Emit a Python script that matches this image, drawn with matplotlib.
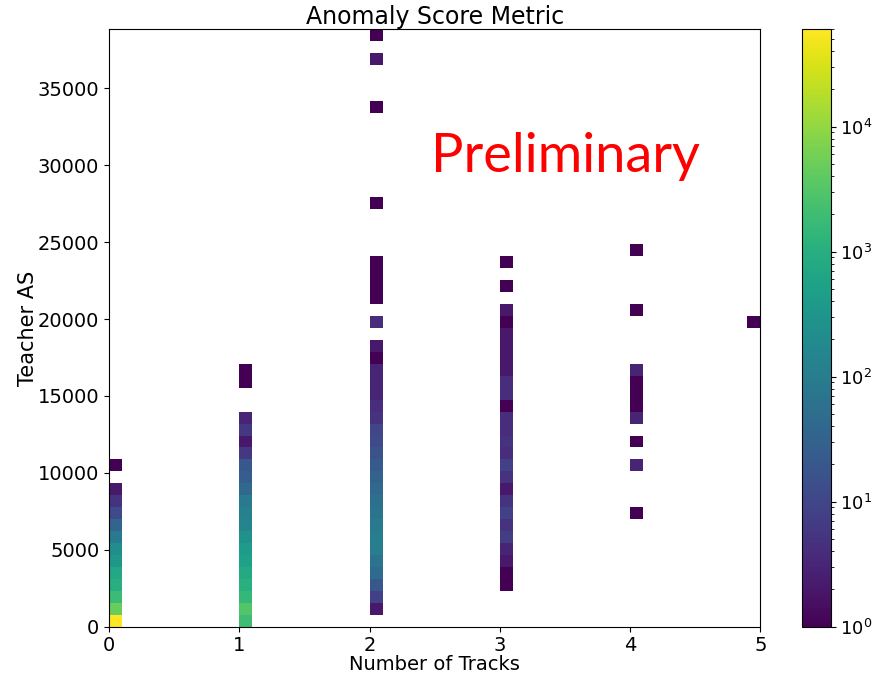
import numpy as np
import matplotlib
matplotlib.use("Agg")
import matplotlib.pyplot as plt
from matplotlib.colors import LogNorm

# ---- data (counts per Teacher-AS bin, from bin 0 upward) ----
n_tracks = [0, 1, 2, 3, 4, 5]
as_max = 38840
n_bins = 50

counts_0 = [60000, 4800, 1800, 1000, 740, 340, 220, 90, 34, 12, 5, 2, 0, 1]
counts_1 = [2000, 3000, 1500, 1100, 800, 550, 400, 250, 150, 120, 90, 40, 25, 20,
            6, 2, 6, 3, 0, 0, 1, 1]
counts_2 = [0, 2, 8, 20, 45, 70, 100, 110, 90, 70, 55, 40, 30, 22, 16, 12, 10, 5,
            4, 3, 3, 3, 1, 2, 0, 4, 0, 1, 1, 1, 1, 0, 0, 0, 0, 1, 0, 0, 0, 0,
            0, 0, 0, 1, 0, 0, 0, 2, 0, 1]
counts_3 = [0, 0, 0, 1, 1, 2, 3, 7, 5, 8, 5, 2, 5, 8, 4, 5, 4, 4, 1, 4, 4, 2, 2,
            2, 2, 1, 2, 0, 1, 0, 1]
counts_4 = [0, 0, 0, 0, 0, 0, 0, 0, 0, 1, 0, 0, 0, 3, 0, 1, 0, 3, 1, 1, 1, 3, 0,
            0, 0, 0, 1, 0, 0, 0, 0, 1]
counts_5 = [0] * 25 + [1]

all_counts = [counts_0, counts_1, counts_2, counts_3, counts_4, counts_5]

# build weighted samples at bin centres
y_edges = np.linspace(0, as_max, n_bins + 1)
y_centres = 0.5 * (y_edges[:-1] + y_edges[1:])
xs, ys, ws = [], [], []
for nt, cnt in zip(n_tracks, all_counts):
    for k, c in enumerate(cnt):
        if c > 0:
            xs.append(nt)
            ys.append(y_centres[k])
            ws.append(c)

fig = plt.figure(figsize=(8.73, 6.74), dpi=100)
W, H = 873, 674
ax = fig.add_axes([109 / W, (H - 626.7) / H, (760.3 - 109) / W, (626.7 - 29.3) / H])
cax = fig.add_axes([801.7 / W, (H - 626.7) / H, (830.7 - 801.7) / W, (626.7 - 29.3) / H])

h = ax.hist2d(xs, ys, bins=n_bins, range=[[0, 5], [0, as_max]], weights=ws,
              norm=LogNorm(), cmap="viridis")
cb = fig.colorbar(h[3], cax=cax)
cb.ax.tick_params(labelsize=13, pad=3)

ax.set_title("Anomaly Score Metric", fontsize=17, pad=4)
ax.set_xlabel("Number of Tracks", fontsize=14, labelpad=0)
ax.set_ylabel("Teacher AS", fontsize=15, labelpad=0)
ax.tick_params(labelsize=14)
ax.set_xticks([0, 1, 2, 3, 4, 5])
ax.set_yticks([0, 5000, 10000, 15000, 20000, 25000, 30000, 35000])

fig.text(431 / W, (H - 172.3) / H, "Preliminary", color="red", fontsize=39,
         family="Lato", va="baseline", ha="left")

fig.savefig("out.png", dpi=100)
